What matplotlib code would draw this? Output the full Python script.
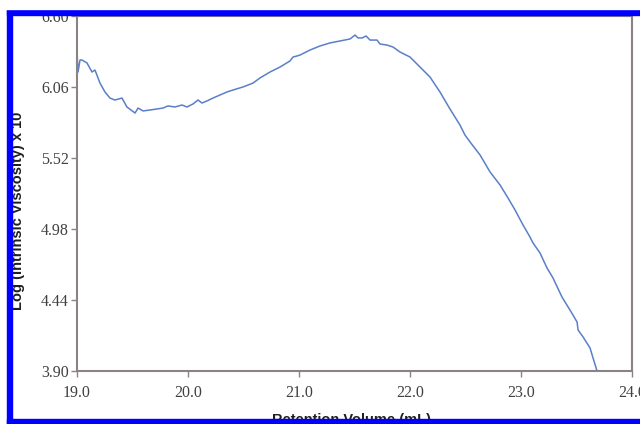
import matplotlib.pyplot as plt
from matplotlib.patches import Rectangle

# retention volume (mL) and log(intrinsic viscosity) x 10
volume = [19.000, 19.009, 19.027, 19.045, 19.090, 19.135, 19.162, 19.207, 19.252,
          19.297, 19.342, 19.405, 19.450, 19.523, 19.550, 19.595, 19.658, 19.721,
          19.775, 19.820, 19.883, 19.946, 19.991, 20.045, 20.090, 20.126, 20.171,
          20.225, 20.288, 20.351, 20.405, 20.495, 20.586, 20.649, 20.739, 20.829,
          20.919, 20.946, 20.982, 21.009, 21.099, 21.189, 21.279, 21.369, 21.459,
          21.505, 21.532, 21.568, 21.604, 21.640, 21.703, 21.730, 21.793, 21.847,
          21.910, 22.000, 22.090, 22.180, 22.270, 22.360, 22.450, 22.495, 22.541,
          22.631, 22.721, 22.811, 22.883, 22.946, 23.018, 23.081, 23.108, 23.171,
          23.234, 23.288, 23.369, 23.441, 23.505, 23.514, 23.559, 23.622, 23.649,
          23.685]
log_iv = [6.326, 6.174, 6.265, 6.265, 6.243, 6.174, 6.189, 6.090, 6.022,
          5.976, 5.961, 5.976, 5.908, 5.862, 5.900, 5.878, 5.885, 5.893,
          5.900, 5.916, 5.908, 5.923, 5.908, 5.931, 5.961, 5.938, 5.954,
          5.976, 5.999, 6.022, 6.037, 6.060, 6.090, 6.129, 6.174, 6.212,
          6.258, 6.288, 6.296, 6.303, 6.341, 6.372, 6.395, 6.410, 6.425,
          6.455, 6.433, 6.433, 6.448, 6.417, 6.417, 6.387, 6.379, 6.364,
          6.326, 6.288, 6.212, 6.136, 6.022, 5.893, 5.771, 5.695, 5.642,
          5.543, 5.414, 5.315, 5.216, 5.125, 5.011, 4.919, 4.874, 4.798,
          4.684, 4.608, 4.463, 4.364, 4.273, 4.212, 4.159, 4.075, 3.999,
          3.900]

x_ticks = [19.0, 20.0, 21.0, 22.0, 23.0, 24.0]
y_ticks = [3.90, 4.44, 4.98, 5.52, 6.06, 6.60]

W, H = 640, 424
fig = plt.figure(figsize=(W / 100, H / 100), dpi=100)
ax = fig.add_axes([77 / W, 1 - 371 / H, (632 - 77) / W, (371 - 16) / H])

ax.plot(volume, log_iv, color='#5a7fc8', lw=1.1)

ax.set_xlim(19.0, 24.0)
ax.set_ylim(3.90, 6.60)
ax.set_xticks(x_ticks)
ax.set_xticklabels(['%.1f' % v for v in x_ticks])
ax.set_yticks(y_ticks)
ax.set_yticklabels(['%.2f' % v for v in y_ticks])

spine_col = '#8c8282'
for s in ax.spines.values():
    s.set_color(spine_col)
    s.set_linewidth(1.5)
ax.tick_params(axis='both', colors=spine_col, length=4, width=1,
               labelcolor='#404040', labelsize=11.5)
ax.tick_params(axis='x', pad=6)
ax.tick_params(axis='y', pad=2)
for lab in ax.get_xticklabels() + ax.get_yticklabels():
    lab.set_fontfamily('Liberation Serif')

fig.text(18 / W, 1 - 211 / H, 'Log (Intrinsic Viscosity) x 10', rotation=90,
         ha='center', va='center', fontsize=10.5, fontweight='bold',
         family='Liberation Sans', color='#202020')
fig.text(352 / W, 1 - 420 / H, 'Retention Volume (mL)', ha='center',
         va='center', fontsize=10.5, fontweight='bold',
         family='Liberation Sans', color='#202020')

# blue frame round the figure, drawn over the edge texts
blue = '#0000ff'
fig.patches.append(Rectangle((7 / W, 0), 5 / W, 1 - 9 / H, color=blue,
                             transform=fig.transFigure, zorder=10))
fig.patches.append(Rectangle((7 / W, 1 - 15 / H), 1, 6 / H, color=blue,
                             transform=fig.transFigure, zorder=10))
fig.patches.append(Rectangle((0, 1 - 9 / H), 1, 9 / H, color='white',
                             transform=fig.transFigure, zorder=10))
fig.patches.append(Rectangle((7 / W, 0), 1, 5 / H, color=blue,
                             transform=fig.transFigure, zorder=10))

fig.savefig('out.png', dpi=100)
